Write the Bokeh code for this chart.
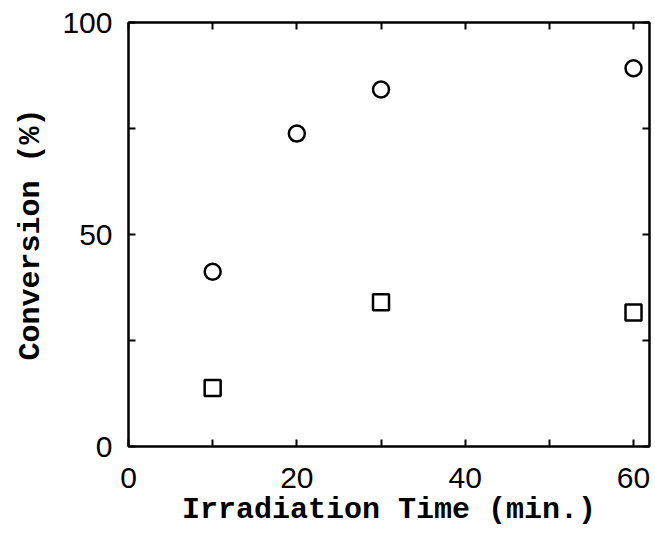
from bokeh.plotting import figure
from bokeh.models import LinearAxis, FixedTicker, Range1d
from bokeh.embed import file_html
from bokeh.resources import INLINE

time_circle = [10, 20, 30, 60]
conv_circle = [41.2, 73.8, 84.2, 89.2]
time_square = [10, 30, 60]
conv_square = [13.8, 34.0, 31.6]

x_major = [0, 20, 40, 60]
x_minor = [10, 30, 50]
y_major = [0, 50, 100]
y_minor = [25, 75]

p = figure(width=653, height=532, output_backend="svg", toolbar_location=None,
           x_range=Range1d(0, 61.9), y_range=Range1d(0, 100),
           min_border_left=128, min_border_right=4, min_border_top=22, min_border_bottom=86)
p.grid.visible = False
p.outline_line_color = "black"
p.outline_line_width = 2
p.background_fill_color = "white"
p.border_fill_color = "white"

p.scatter(time_circle, conv_circle, marker="circle", size=16, fill_color=None,
          line_color="black", line_width=2.5)
p.scatter(time_square, conv_square, marker="square", size=16, fill_color=None,
          line_color="black", line_width=2.5)

LABEL_FONT = "Liberation Mono"
TICK_FONT = "Liberation Sans"

def style(ax, ticks, minor, labels=True):
    ax.ticker = FixedTicker(ticks=ticks, minor_ticks=minor)
    ax.axis_line_color = "black"
    ax.axis_line_width = 2
    ax.major_tick_in = 7
    ax.major_tick_out = 0
    ax.minor_tick_in = 7
    ax.minor_tick_out = 0
    ax.major_tick_line_width = 2
    ax.minor_tick_line_width = 2
    ax.major_tick_line_color = "black"
    ax.minor_tick_line_color = "black"
    if labels:
        ax.major_label_text_font = TICK_FONT
        ax.major_label_text_font_size = "30px"
        ax.major_label_text_color = "black"
    else:
        ax.major_label_overrides = {t: "" for t in ticks}
        ax.major_label_standoff = 0

style(p.xaxis[0], x_major, x_minor)
style(p.yaxis[0], y_major, y_minor)
p.xaxis[0].major_label_standoff = 21
p.yaxis[0].major_label_standoff = 16
p.xaxis[0].axis_label = "Irradiation Time (min.)"
p.yaxis[0].axis_label = "Conversion (%)"
for ax in (p.xaxis[0], p.yaxis[0]):
    ax.axis_label_text_font = LABEL_FONT
    ax.axis_label_text_font_size = "30px"
    ax.axis_label_text_font_style = "bold"
    ax.axis_label_text_color = "black"
p.xaxis[0].axis_label_standoff = 2
p.yaxis[0].axis_label_standoff = 11

top = LinearAxis()
style(top, x_major, x_minor, labels=False)
p.add_layout(top, "above")
right = LinearAxis()
style(right, y_major, y_minor, labels=False)
p.add_layout(right, "right")

open("out.html", "w").write(file_html(p, INLINE))
